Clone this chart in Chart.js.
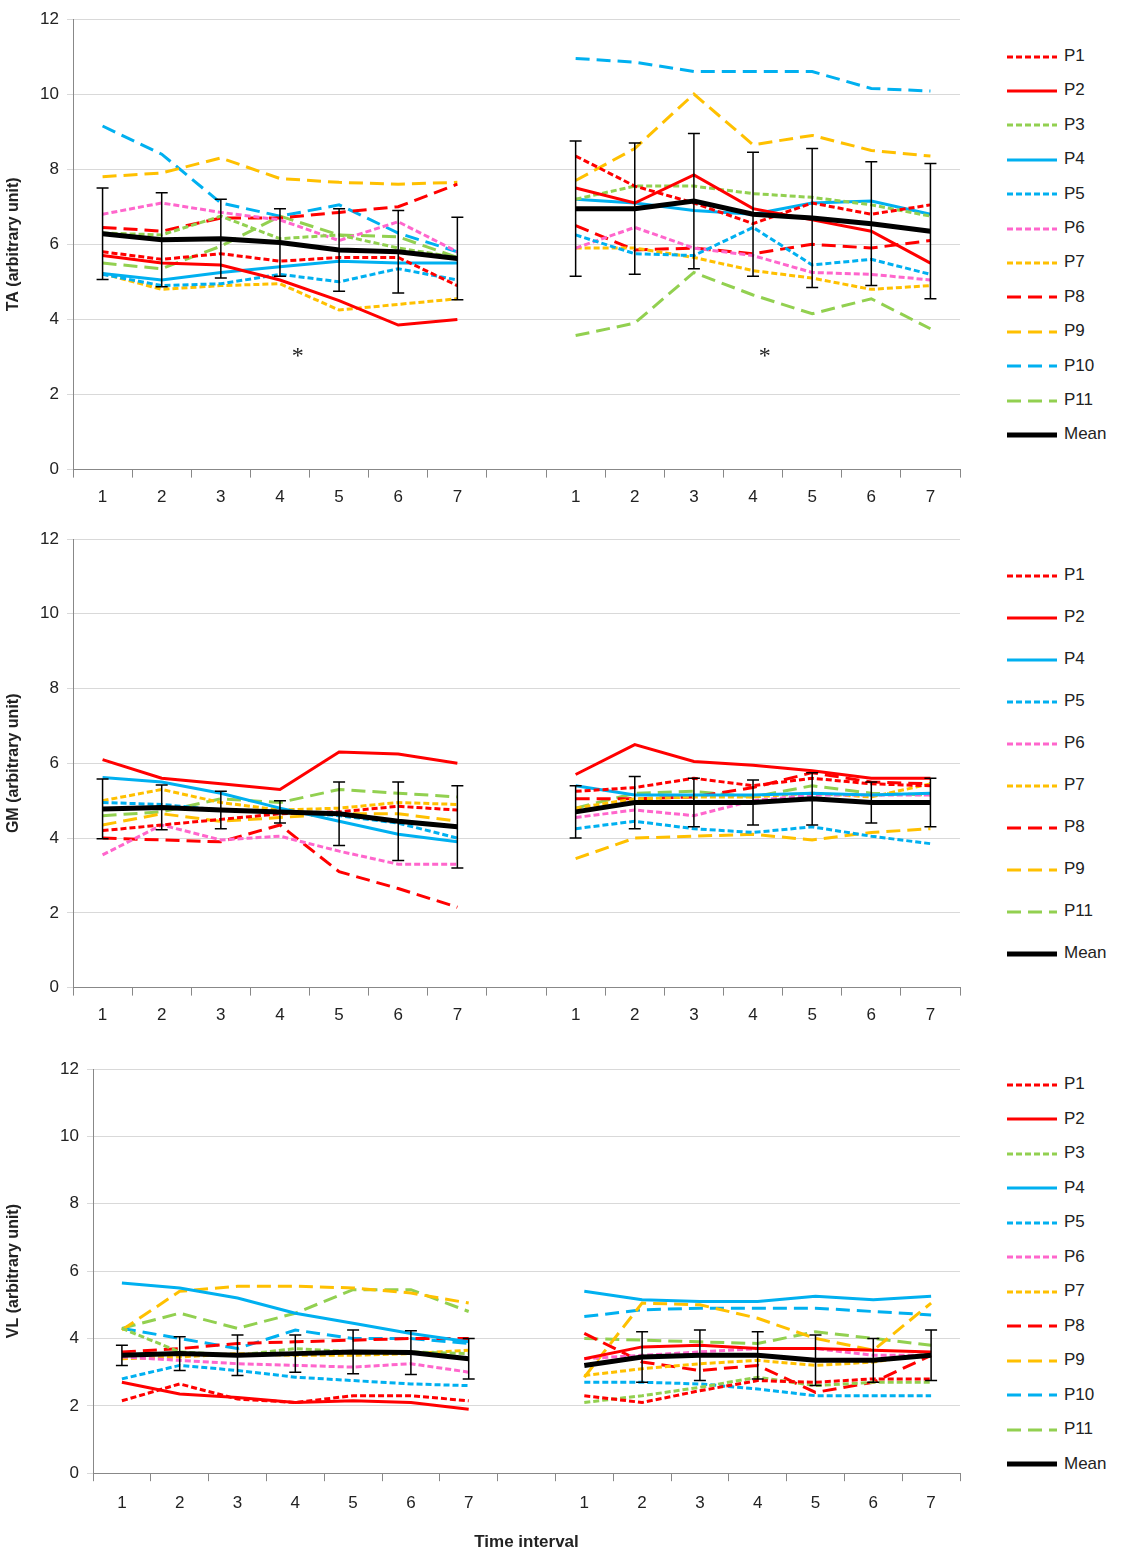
<!DOCTYPE html>
<html><head><meta charset="utf-8">
<script src="https://cdn.jsdelivr.net/npm/chart.js@4"></script>
<style>
body{margin:0;background:#fff;font-family:"Liberation Sans",Arial,sans-serif;overflow:hidden;}
.wrap{position:absolute;left:0;width:975px;}
.legend{position:absolute;left:1006px;font-size:17px;color:#222;}
.legend div{position:absolute;left:0;height:20px;line-height:20px;white-space:nowrap;}
.legend svg{vertical-align:middle;margin-right:6px;}
</style></head><body>
<div class="wrap" style="top:0;height:518px"><canvas id="c1"></canvas></div>
<div class="wrap" style="top:520px;height:516px"><canvas id="c2"></canvas></div>
<div class="wrap" style="top:1050px;height:503px"><canvas id="c3"></canvas></div>
<div class="legend" id="l1" style="top:0"></div>
<div class="legend" id="l2" style="top:0"></div>
<div class="legend" id="l3" style="top:0"></div>
<script>
const labels = ['1','2','3','4','5','6','7','','1','2','3','4','5','6','7'];

// TA
const taL = {
  P1:[5.8,5.6,5.75,5.55,5.65,5.65,4.9], P2:[5.7,5.5,5.45,5.05,4.5,3.85,4.0],
  P3:[6.3,6.25,6.75,6.15,6.25,5.9,5.65], P4:[5.22,5.05,5.25,5.4,5.55,5.5,5.5],
  P5:[5.2,4.9,4.95,5.2,5.0,5.35,5.05], P6:[6.8,7.1,6.85,6.65,6.1,6.6,5.8],
  P7:[5.22,4.8,4.9,4.95,4.25,4.4,4.55], P8:[6.45,6.35,6.7,6.7,6.85,7.0,7.6],
  P9:[7.8,7.9,8.3,7.75,7.65,7.6,7.65], P10:[9.15,8.4,7.1,6.75,7.05,6.3,5.8],
  P11:[5.5,5.35,5.95,6.75,6.25,6.2,5.65], Mean:[6.28,6.12,6.15,6.05,5.85,5.8,5.62]
};
const taR = {
  P1:[8.35,7.55,7.1,6.55,7.1,6.8,7.05], P2:[7.5,7.1,7.85,6.95,6.65,6.35,5.5],
  P3:[7.2,7.55,7.55,7.35,7.25,7.05,6.75], P4:[7.2,7.1,6.9,6.8,7.1,7.15,6.8],
  P5:[6.25,5.75,5.7,6.45,5.45,5.6,5.2], P6:[5.9,6.45,5.9,5.7,5.25,5.2,5.05],
  P7:[5.9,5.9,5.65,5.3,5.1,4.8,4.9], P8:[6.5,5.85,5.9,5.75,6.0,5.9,6.1],
  P9:[7.7,8.55,10.0,8.65,8.9,8.5,8.35], P10:[10.95,10.85,10.6,10.6,10.6,10.15,10.08],
  P11:[3.57,3.9,5.25,4.65,4.15,4.55,3.75], Mean:[6.95,6.95,7.15,6.8,6.7,6.55,6.35]
};
const taSdL = [1.22,1.25,1.05,0.9,1.1,1.1,1.1];
const taSdR = [1.8,1.75,1.8,1.65,1.85,1.65,1.8];

// GM
const gmL = {
  P1:[4.2,4.35,4.5,4.65,4.7,4.85,4.75], P2:[6.1,5.6,5.45,5.3,6.3,6.25,6.0],
  P4:[5.62,5.5,5.2,4.8,4.45,4.1,3.9], P5:[4.95,4.9,4.75,4.7,4.6,4.4,4.0],
  P6:[3.55,4.35,3.95,4.05,3.65,3.3,3.3], P7:[5.0,5.3,4.95,4.75,4.8,4.95,4.9],
  P8:[4.0,3.95,3.9,4.35,3.1,2.65,2.15], P9:[4.35,4.65,4.45,4.55,4.65,4.65,4.45],
  P11:[4.6,4.7,5.05,4.95,5.3,5.2,5.1], Mean:[4.78,4.82,4.75,4.7,4.65,4.45,4.3]
};
const gmR = {
  P1:[5.25,5.35,5.6,5.4,5.6,5.45,5.4], P2:[5.7,6.5,6.05,5.95,5.8,5.6,5.6],
  P4:[5.4,5.15,5.15,5.15,5.2,5.15,5.2], P5:[4.25,4.45,4.25,4.15,4.3,4.05,3.85],
  P6:[4.55,4.75,4.6,5.0,5.15,5.15,5.15], P7:[4.8,5.05,5.1,5.1,5.2,5.1,5.45],
  P8:[5.05,5.05,5.1,5.35,5.75,5.5,5.45], P9:[3.45,4.0,4.05,4.1,3.95,4.15,4.25],
  P11:[4.8,5.2,5.25,5.1,5.4,5.2,5.15], Mean:[4.7,4.95,4.95,4.95,5.05,4.95,4.95]
};
const gmSdL = [0.8,0.6,0.5,0.3,0.85,1.05,1.1];
const gmSdR = [0.7,0.7,0.65,0.6,0.7,0.55,0.65];

// VL
const vlL = {
  P1:[2.15,2.65,2.2,2.1,2.3,2.3,2.15], P2:[2.7,2.35,2.25,2.1,2.15,2.1,1.9],
  P3:[4.3,3.6,3.5,3.7,3.6,3.6,3.55], P4:[5.65,5.5,5.2,4.75,4.45,4.15,3.9],
  P5:[2.8,3.2,3.05,2.85,2.75,2.65,2.6], P6:[3.45,3.35,3.25,3.2,3.15,3.25,3.0],
  P7:[3.4,3.45,3.55,3.5,3.5,3.55,3.65], P8:[3.6,3.7,3.85,3.9,3.95,4.0,4.0],
  P9:[4.25,5.4,5.55,5.55,5.5,5.35,5.05], P10:[4.3,4.0,3.7,4.25,4.0,4.0,3.85],
  P11:[4.3,4.75,4.3,4.75,5.45,5.45,4.8], Mean:[3.5,3.55,3.5,3.55,3.6,3.58,3.4]
};
const vlR = {
  P1:[2.3,2.1,2.45,2.75,2.7,2.8,2.8], P2:[3.4,3.75,3.8,3.7,3.7,3.65,3.6],
  P3:[2.1,2.3,2.55,2.85,2.6,2.7,2.7], P4:[5.4,5.15,5.1,5.1,5.25,5.15,5.25],
  P5:[2.7,2.7,2.65,2.5,2.3,2.3,2.3], P6:[3.4,3.5,3.6,3.7,3.7,3.5,3.5],
  P7:[2.9,3.1,3.25,3.35,3.2,3.3,3.55], P8:[4.15,3.3,3.05,3.2,2.4,2.7,3.5],
  P9:[2.85,5.05,5.0,4.6,4.0,3.65,5.05], P10:[4.65,4.85,4.9,4.9,4.9,4.8,4.7],
  P11:[4.0,3.95,3.9,3.85,4.2,4.0,3.8], Mean:[3.2,3.45,3.5,3.5,3.35,3.35,3.5]
};
const vlSdL = [0.3,0.5,0.6,0.55,0.65,0.65,0.6];
const vlSdR = [0,0.75,0.75,0.7,0.75,0.65,0.75];

const RED='#FF0000', GREEN='#92D050', BLUE='#00B0F0', PINK='#FF66CC', YEL='#FFC000';
const SHORT=[6,3], LONG=[14,7];
const style = {
  P1:[RED,SHORT], P2:[RED,[]], P3:[GREEN,SHORT], P4:[BLUE,[]], P5:[BLUE,SHORT],
  P6:[PINK,SHORT], P7:[YEL,SHORT], P8:[RED,LONG], P9:[YEL,LONG], P10:[BLUE,LONG],
  P11:[GREEN,LONG], Mean:['#000',[]]
};

const errorBars = {
  id:'errorBars',
  afterDatasetsDraw(chart, args, opts){
    const {ctx, scales:{x,y}} = chart;
    const mean = opts.mean, sd = opts.sd;
    ctx.save();
    ctx.strokeStyle='#000'; ctx.lineWidth=1.5;
    mean.forEach((m,i)=>{
      if(m==null || !sd[i]) return;
      const px=x.getPixelForValue(i), t=y.getPixelForValue(m+sd[i]), b=y.getPixelForValue(m-sd[i]);
      ctx.beginPath();
      ctx.moveTo(px,t); ctx.lineTo(px,b);
      ctx.moveTo(px-6,t); ctx.lineTo(px+6,t);
      ctx.moveTo(px-6,b); ctx.lineTo(px+6,b);
      ctx.stroke();
    });
    ctx.restore();
  }
};

const stars = {
  id:'stars',
  afterDraw(chart, args, opts){
    if(!opts.on) return;
    const {ctx, scales:{x,y}} = chart;
    ctx.save(); ctx.fillStyle='#222'; ctx.font='24px "Liberation Serif"'; ctx.textAlign='center';
    [3.3,11.2].forEach(i=>ctx.fillText('*', x.getPixelForValue(i), y.getPixelForValue(3.1)+10));
    ctx.restore();
  }
};

function join(l,r){ return [...l, null, ...r]; }

function make(id, L, R, sdL, sdR, title, opt){
  const names = Object.keys(L);
  const datasets = names.map(n=>({
    label:n, data:join(L[n],R[n]),
    borderColor:style[n][0], borderDash:style[n][1],
    borderWidth:n==='Mean'?5:3, pointRadius:0, fill:false, tension:0,
    order:n==='Mean'?0:1
  }));
  new Chart(document.getElementById(id), {
    type:'line',
    data:{labels, datasets},
    options:{
      responsive:true, maintainAspectRatio:false, animation:false,
      spanGaps:false,
      layout:{padding:{top:opt.top, right:15, left:0, bottom:0}},
      plugins:{
        legend:{display:false}, tooltip:{enabled:false},
        errorBars:{mean:join(L.Mean,R.Mean), sd:join(sdL,sdR)},
        stars:{on:opt.stars}
      },
      scales:{
        x:{offset:true,
           grid:{offset:true, drawOnChartArea:false, tickLength:8, color:'#888'},
           border:{color:'#888'},
           ticks:{color:'#222', font:{size:17, family:'Liberation Sans'}, padding:opt.xTitle?12:10},
           title:{display:!!opt.xTitle, text:opt.xTitle||'', color:'#222', font:{size:17, weight:'bold', family:'Liberation Sans'}, padding:{top:7, bottom:0}}
        },
        y:{min:0, max:12,
           afterFit:s=>{s.width=opt.yw;},
           grid:{color:'#d9d9d9', tickLength:6},
           border:{color:'#888'},
           ticks:{stepSize:2, color:'#222', padding:8, font:{size:17, family:'Liberation Sans'}},
           title:{display:true, text:title, color:'#222', font:{size:16, weight:'bold', family:'Liberation Sans'}}
        }
      }
    },
    plugins:[errorBars, stars]
  });
}

make('c1', taL, taR, taSdL, taSdR, 'TA (arbitrary unit)', {top:19, yw:73, stars:true});
make('c2', gmL, gmR, gmSdL, gmSdR, 'GM (arbitrary unit)', {top:19, yw:73, stars:false});
make('c3', vlL, vlR, vlSdL, vlSdR, 'VL (arbitrary unit)', {top:19, yw:93, stars:false, xTitle:'Time interval'});

function legend(id, names, y0, step){
  const el=document.getElementById(id);
  names.forEach((n,i)=>{
    const [c,d]=style[n];
    const d2=d.length?d.join(','):'none';
    const div=document.createElement('div');
    div.style.top=(y0+i*step-10)+'px';
    div.innerHTML='<svg width="52" height="10"><line x1="1" y1="5" x2="51" y2="5" stroke="'+c+'" stroke-width="'+(n==='Mean'?5:3)+'" stroke-dasharray="'+d2+'"/></svg>'+n;
    el.appendChild(div);
  });
}
legend('l1', Object.keys(taL), 56, 34.4);
legend('l2', Object.keys(gmL), 575, 42);
legend('l3', Object.keys(vlL), 1084, 34.5);
</script>
</body></html>
